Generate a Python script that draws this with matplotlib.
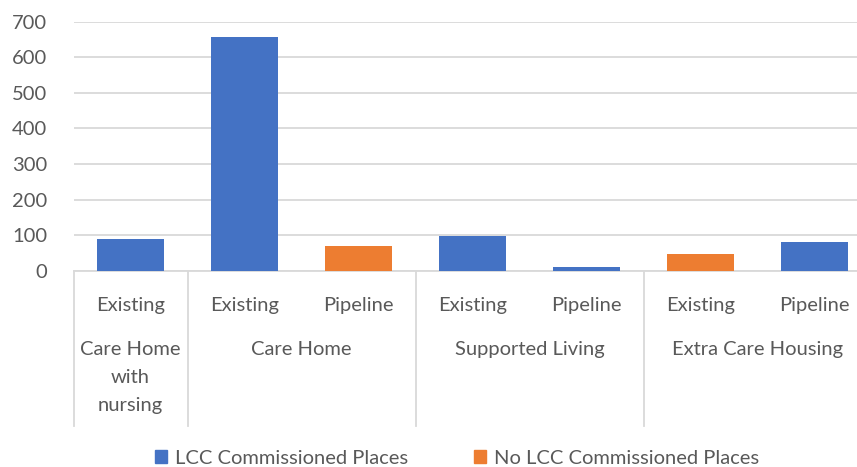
import numpy as np
import matplotlib.pyplot as plt
from matplotlib.patches import Patch

plt.rcParams['font.family'] = ['Lato', 'DejaVu Sans']

# Data
sub_labels = ['Existing', 'Existing', 'Pipeline', 'Existing', 'Pipeline', 'Existing', 'Pipeline']
group_labels = ['Care Home\nwith\nnursing', 'Care Home', 'Supported Living', 'Extra Care Housing']
group_spans = [(0, 0), (1, 2), (3, 4), (5, 6)]
values = [88, 656, 70, 97, 10, 48, 80]
is_lcc = [True, True, False, True, True, False, True]

blue = '#4472C4'
orange = '#ED7D31'
grey_text = '#595959'
grid_col = '#D9D9D9'
fs = 14.5

W, H = 857, 467
fig = plt.figure(figsize=(W / 100, H / 100), dpi=100)
ax = fig.add_axes([73.5 / W, 1 - 270.7 / H, 798 / W, 249 / H])

x = np.arange(len(values))
colors = [blue if c else orange for c in is_lcc]
ax.bar(x, values, width=0.58, color=colors, zorder=3)

ax.set_xlim(-0.5, len(values) - 0.5)
ax.set_ylim(0, 700)
ax.set_yticks(np.arange(0, 701, 100))
ax.yaxis.grid(True, color=grid_col, linewidth=1.3, zorder=0)
for s in ['top', 'right', 'left']:
    ax.spines[s].set_visible(False)
ax.spines['bottom'].set_color(grid_col)
ax.spines['bottom'].set_linewidth(1.3)
ax.tick_params(axis='y', length=0, labelsize=fs, labelcolor=grey_text, pad=19)
ax.tick_params(axis='x', length=0, labelsize=fs, labelcolor=grey_text, pad=19)
ax.set_xticks(x)
ax.set_xticklabels(sub_labels)

# second level of the category axis
trans = ax.get_xaxis_transform()
for label, (a, b) in zip(group_labels, group_spans):
    ax.text((a + b) / 2, -70 / 249, label, transform=trans, ha='center', va='top',
            fontsize=fs, color=grey_text, linespacing=1.8)
for edge in [-0.5, 0.5, 2.5, 4.5]:
    ax.plot([edge, edge], [0, -155 / 249], transform=trans, color=grid_col,
            linewidth=1.3, clip_on=False)

handles = [Patch(color=blue, label='LCC Commissioned Places'),
           Patch(color=orange, label='No LCC Commissioned Places')]
fig.legend(handles=handles, loc='center', bbox_to_anchor=(457 / W, 1 - 458 / H),
           ncol=2, frameon=False, fontsize=fs, labelcolor=grey_text,
           handlelength=0.6, handleheight=0.6, handletextpad=0.4, columnspacing=3.3)

plt.savefig('out.png', dpi=100)
